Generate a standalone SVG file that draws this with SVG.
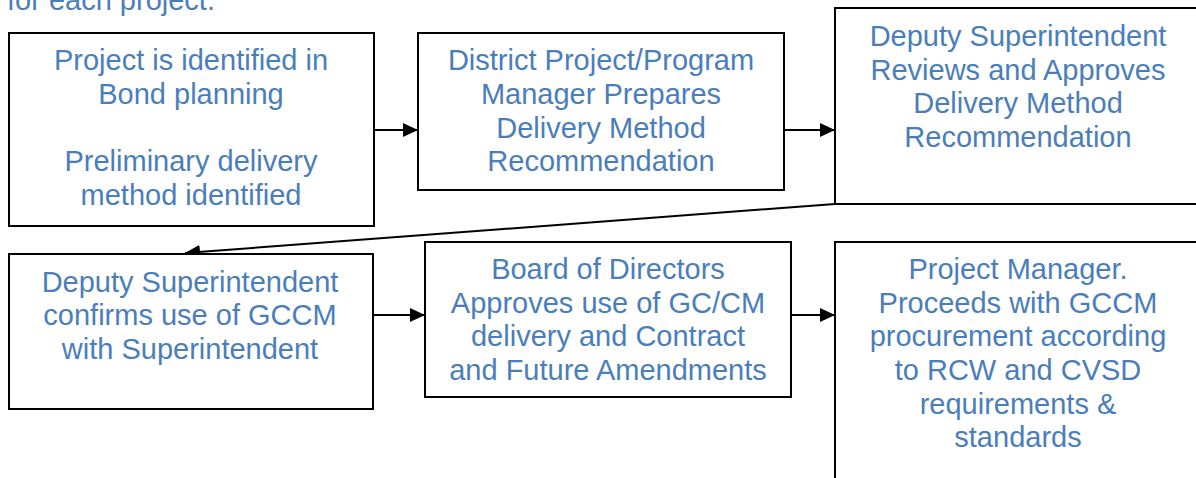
<svg xmlns="http://www.w3.org/2000/svg" width="1196" height="478" viewBox="0 0 1196 478">
  <style>
    .box { fill: #ffffff; stroke: #000000; stroke-width: 2; }
    .lbl { font-family: "Liberation Sans", Arial, sans-serif; font-size: 29px; fill: #4a7ebb; text-anchor: middle; }
    .note { font-family: "Liberation Sans", Arial, sans-serif; font-size: 29px; fill: #4a7ebb; }
    .conn { stroke: #000000; stroke-width: 2; fill: none; marker-end: url(#arrow); }
  </style>
  <defs>
    <marker id="arrow" viewBox="0 0 10 10" refX="10" refY="5" markerWidth="7.5" markerHeight="7" markerUnits="strokeWidth" orient="auto" preserveAspectRatio="none">
      <path d="M0,0 L10,5 L0,10 z" fill="#000000"/>
    </marker>
  </defs>
  <rect width="1196" height="478" fill="#ffffff"/>

  <text class="note" x="7" y="10">for each project.</text>

  <g id="connectors">
    <line class="conn" x1="374" y1="130" x2="418" y2="130"/>
    <line class="conn" x1="784" y1="130" x2="835" y2="130"/>
    <line class="conn" x1="835" y1="204" x2="185" y2="253"/>
    <line class="conn" x1="373" y1="315" x2="425" y2="315"/>
    <line class="conn" x1="784" y1="315" x2="835" y2="315"/>
  </g>

  <g id="node-identified">
    <rect class="box" x="9" y="33" width="365" height="193"/>
    <text class="lbl" x="191" y="70">Project is identified in</text>
    <text class="lbl" x="191" y="104">Bond planning</text>
    <text class="lbl" x="191" y="171">Preliminary delivery</text>
    <text class="lbl" x="191" y="205">method identified</text>
  </g>

  <g id="node-recommendation">
    <rect class="box" x="418" y="33" width="366" height="157"/>
    <text class="lbl" x="601" y="70">District Project/Program</text>
    <text class="lbl" x="601" y="104">Manager Prepares</text>
    <text class="lbl" x="601" y="138">Delivery Method</text>
    <text class="lbl" x="601" y="171">Recommendation</text>
  </g>

  <g id="node-review">
    <rect class="box" x="835" y="8" width="370" height="196"/>
    <text class="lbl" x="1018" y="46">Deputy Superintendent</text>
    <text class="lbl" x="1018" y="80">Reviews and Approves</text>
    <text class="lbl" x="1018" y="113">Delivery Method</text>
    <text class="lbl" x="1018" y="147">Recommendation</text>
  </g>

  <g id="node-confirm">
    <rect class="box" x="9" y="254" width="364" height="155"/>
    <text class="lbl" x="190" y="292">Deputy Superintendent</text>
    <text class="lbl" x="190" y="325">confirms use of GCCM</text>
    <text class="lbl" x="190" y="359">with Superintendent</text>
  </g>

  <g id="node-board">
    <rect class="box" x="425" y="242" width="366" height="155"/>
    <text class="lbl" x="608" y="279">Board of Directors</text>
    <text class="lbl" x="608" y="313">Approves use of GC/CM</text>
    <text class="lbl" x="608" y="346">delivery and Contract</text>
    <text class="lbl" x="608" y="380">and Future Amendments</text>
  </g>

  <g id="node-procurement">
    <rect class="box" x="835" y="242" width="370" height="250"/>
    <text class="lbl" x="1018" y="279">Project Manager.</text>
    <text class="lbl" x="1018" y="313">Proceeds with GCCM</text>
    <text class="lbl" x="1018" y="346">procurement according</text>
    <text class="lbl" x="1018" y="380">to RCW and CVSD</text>
    <text class="lbl" x="1018" y="414">requirements &amp;</text>
    <text class="lbl" x="1018" y="447">standards</text>
  </g>
</svg>
